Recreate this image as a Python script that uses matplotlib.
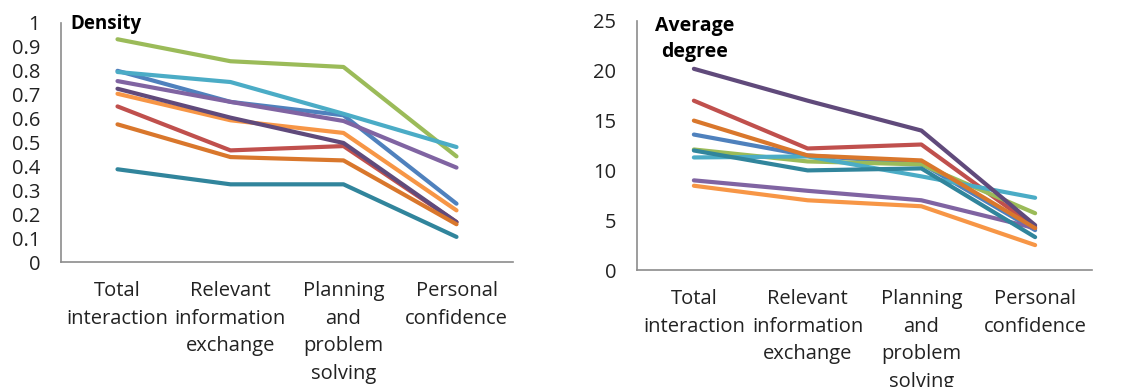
import matplotlib
matplotlib.use("Agg")
import matplotlib.pyplot as plt
from matplotlib.transforms import IdentityTransform

plt.rcParams['font.family'] = ['Open Sans', 'DejaVu Sans']

categories = ["Total\ninteraction", "Relevant\ninformation\nexchange",
              "Planning\nand\nproblem\nsolving", "Personal\nconfidence"]

colors = ["#4F81BD", "#C0504D", "#9BBB59", "#8064A2", "#4BACC6",
          "#F79646", "#604A7B", "#D9772C", "#31859C"]

density = [
    [0.80, 0.67, 0.614, 0.244],
    [0.651, 0.467, 0.485, 0.167],
    [0.932, 0.84, 0.816, 0.442],
    [0.757, 0.67, 0.59, 0.395],
    [0.795, 0.753, 0.62, 0.481],
    [0.704, 0.593, 0.54, 0.216],
    [0.725, 0.604, 0.498, 0.167],
    [0.576, 0.439, 0.425, 0.158],
    [0.388, 0.325, 0.325, 0.105],
]

avg_degree = [
    [13.6, 11.5, 10.7, 4.0],
    [17.0, 12.2, 12.6, 4.3],
    [12.1, 10.9, 10.6, 5.7],
    [9.0, 7.95, 7.0, 4.2],
    [11.3, 11.4, 9.4, 7.25],
    [8.46, 7.0, 6.4, 2.5],
    [20.2, 17.0, 14.0, 4.5],
    [15.0, 11.5, 11.0, 4.2],
    [12.0, 10.0, 10.2, 3.3],
]

density_ticks = [0, 0.1, 0.2, 0.3, 0.4, 0.5, 0.6, 0.7, 0.8, 0.9, 1]
density_ticklabels = ["0", "0.1", "0.2", "0.3", "0.4", "0.5", "0.6", "0.7", "0.8", "0.9", "1"]
degree_ticks = [0, 5, 10, 15, 20, 25]

W, H = 1124, 387
fig = plt.figure(figsize=(W / 100, H / 100), dpi=100)


def px_axes(x0, y_top, x1, y_bottom):
    return fig.add_axes([x0 / W, (H - y_bottom) / H, (x1 - x0) / W, (y_bottom - y_top) / H])


def style(ax, ymax, ticks, ticklabels):
    x = range(len(categories))
    ax.set_xlim(-0.5, len(categories) - 0.5)
    ax.set_ylim(0, ymax)
    ax.set_yticks(ticks)
    ax.set_yticklabels(ticklabels, fontsize=14.5, color="#222222")
    ax.set_xticks(list(x))
    ax.set_xticklabels(categories, fontsize=14.5, color="#222222", linespacing=1.5, va="top")
    ax.tick_params(axis="both", length=0)
    ax.tick_params(axis="y", pad=15)
    ax.tick_params(axis="x", pad=14)
    for s in ("top", "right"):
        ax.spines[s].set_visible(False)
    for s in ("left", "bottom"):
        ax.spines[s].set_color("#8c8c8c")
        ax.spines[s].set_linewidth(1.2)
    ax.patch.set_alpha(0)


def draw(ax, series):
    for vals, c in zip(series, colors):
        ax.plot(range(len(vals)), vals, color=c, lw=3.0,
                solid_capstyle="round", solid_joinstyle="round")


ax1 = px_axes(61, 23, 513, 262)
draw(ax1, density)
style(ax1, 1, density_ticks, density_ticklabels)
fig.text(70, H - 24, "Density", transform=IdentityTransform(), fontsize=13.5,
         fontweight="bold", ha="left", va="center")

ax2 = px_axes(637, 21, 1092, 270)
draw(ax2, avg_degree)
style(ax2, 25, degree_ticks, [str(t) for t in degree_ticks])
fig.text(695, H - 39, "Average\ndegree", transform=IdentityTransform(), fontsize=14,
         fontweight="bold", ha="center", va="center", linespacing=1.35,
         multialignment="center")

fig.savefig("out.png", dpi=100)
